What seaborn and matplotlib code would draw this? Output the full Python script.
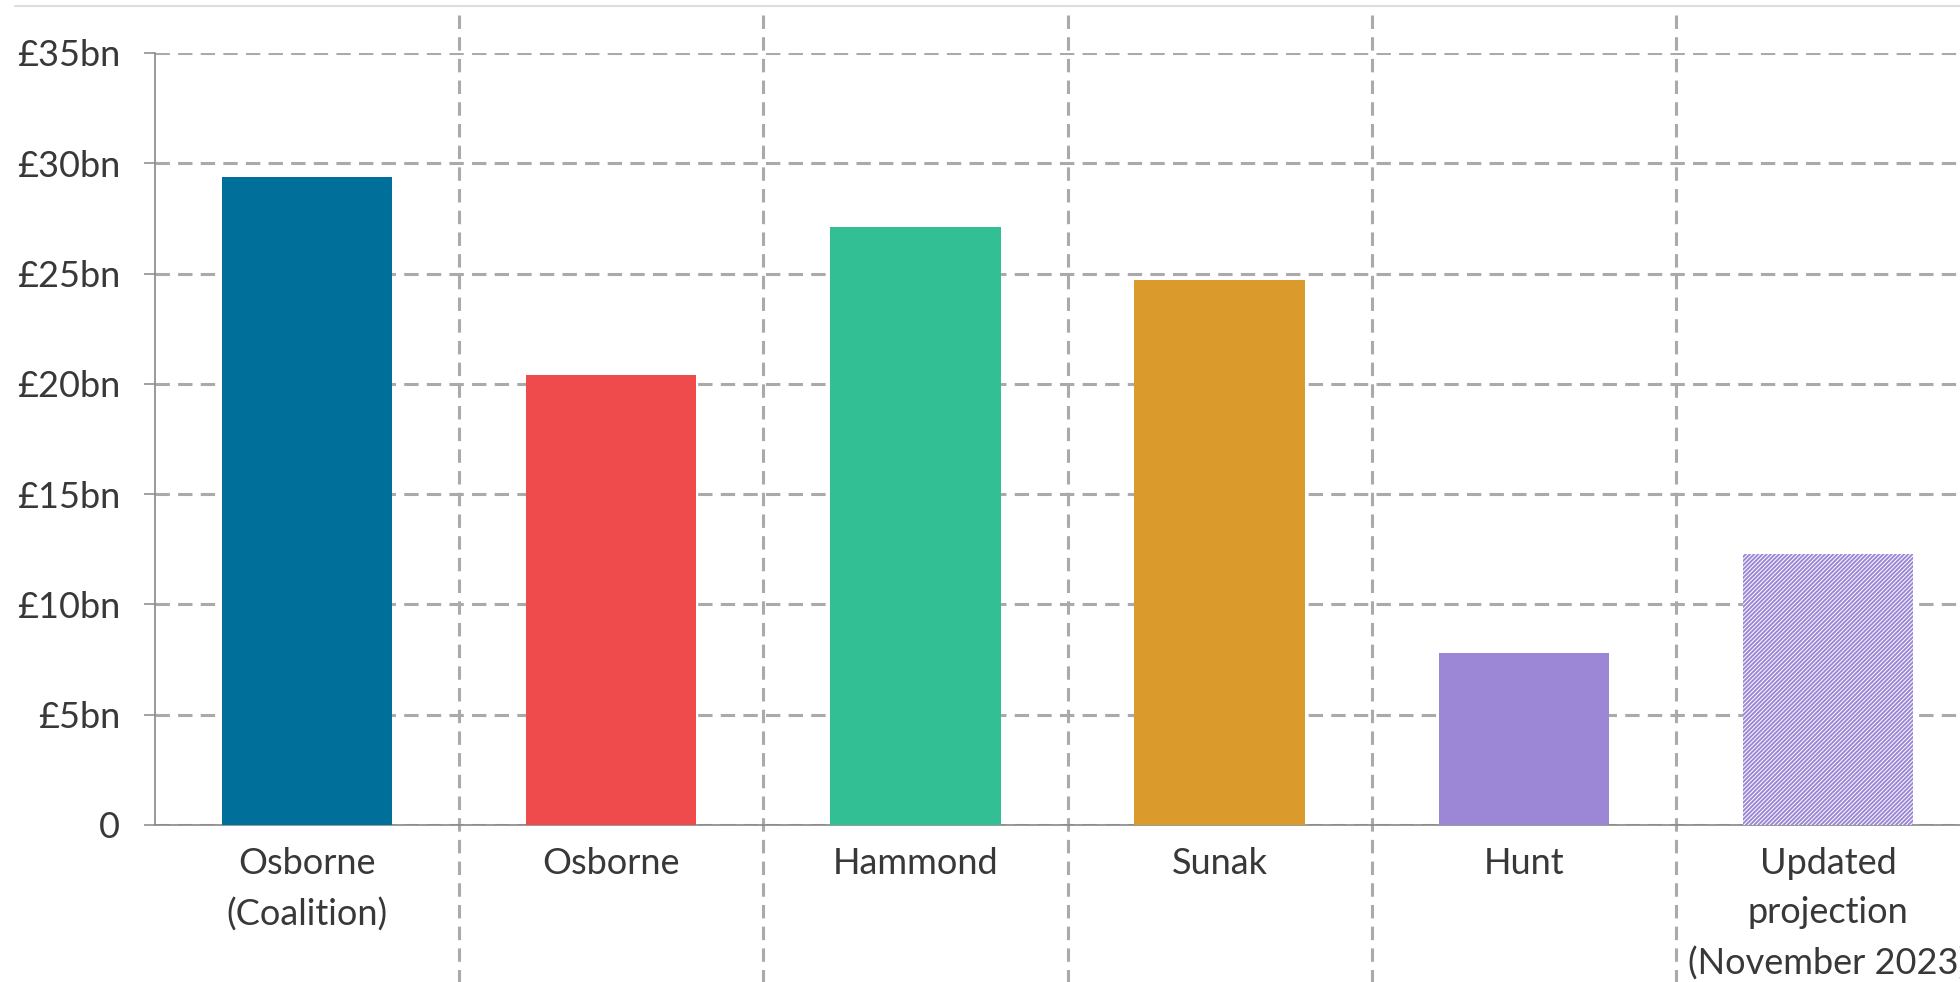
import matplotlib
matplotlib.use("Agg")
import matplotlib.pyplot as plt
from matplotlib.lines import Line2D
import seaborn as sns
import pandas as pd

categories = ["Osborne\n(Coalition)", "Osborne", "Hammond", "Sunak", "Hunt",
              "Updated\nprojection\n(November 2023)"]
values = [29.4, 20.4, 27.1, 24.7, 7.8, 12.3]
colors = ["#00709b", "#ef4b4c", "#33bf94", "#db9a2c", "#9c87d6", "#9c87d6"]
yticks = [0, 5, 10, 15, 20, 25, 30, 35]
ytick_labels = ["0", "£5bn", "£10bn", "£15bn", "£20bn", "£25bn", "£30bn", "£35bn"]

sns.set_theme(style="white")
plt.rcParams["font.family"] = ["Lato", "DejaVu Sans"]
plt.rcParams["hatch.linewidth"] = 1.4

df = pd.DataFrame({"cat": categories, "val": values})

W, H = 1960, 982
fig = plt.figure(figsize=(W / 100, H / 100), dpi=100)
ax = fig.add_axes([155 / W, (H - 825) / H, 1 - 155 / W, (825 - 53) / H])

sns.barplot(data=df, x="cat", y="val", hue="cat", palette=colors, order=categories,
            hue_order=categories, dodge=False, legend=False, width=0.56,
            saturation=1, linewidth=0, ax=ax, zorder=3)

# hatched projection bar
last = ax.patches[-1]
last.set_facecolor("white")
last.set_edgecolor("#9c87d6")
last.set_hatch("////////")
last.set_linewidth(0)

ax.set_xlim(-0.5, (W - 308) / 304)
ax.set_ylim(0, 35)
ax.set_yticks(yticks)
ax.set_yticklabels(ytick_labels)
ax.set_xlabel("")
ax.set_ylabel("")

grid_color = "#aaaaaa"
dash = (0, (4.7, 2.7))
ax.yaxis.grid(True, color=grid_color, linestyle=dash, linewidth=2.2, zorder=1)
ax.xaxis.grid(False)
ax.set_axisbelow(True)

for s in ["top", "right"]:
    ax.spines[s].set_visible(False)
for s in ["left", "bottom"]:
    ax.spines[s].set_color("#888888")
    ax.spines[s].set_linewidth(1.2)

ax.tick_params(axis="y", length=8, width=1.1, color="#888888", pad=17,
               labelsize=26, labelcolor="#383838", left=True)
ax.tick_params(axis="x", length=0, pad=16, labelsize=26, labelcolor="#383838")
for t in ax.get_xticklabels():
    t.set_linespacing(1.6)
    t.set_verticalalignment("top")

# vertical separators between groups
for i in range(len(categories) - 1):
    ax.axvline(i + 0.5, ymin=-0.21, ymax=(825 - 13) / 772, color=grid_color,
               linestyle=(0, (4.4, 2.7)), linewidth=2.2, clip_on=False, zorder=2)

# faint top rule
fig.add_artist(Line2D([15 / W, 1], [1 - 6 / H, 1 - 6 / H], color="#dddddd", lw=1.5))

fig.savefig("out.png", dpi=100, facecolor="white")
